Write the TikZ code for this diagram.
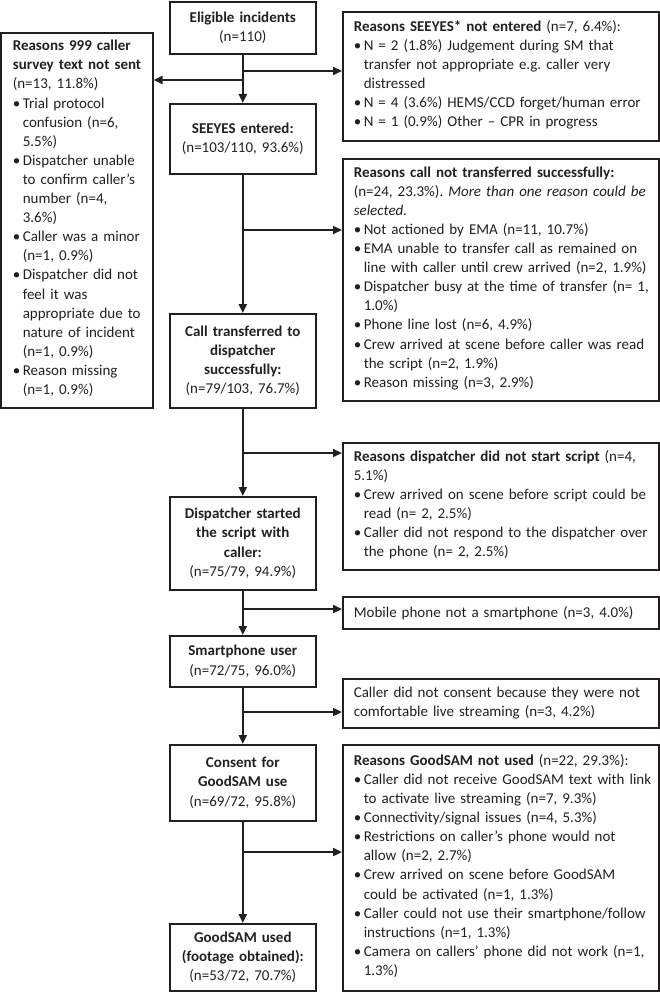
\documentclass[tikz,border=0pt]{standalone}
\usepackage{fontspec}
\setmainfont{Carlito}
\usetikzlibrary{arrows.meta}
\definecolor{ink}{HTML}{231F20}
\newcommand{\bul}[1]{\par\noindent\makebox[10pt][l]{\textbullet}\parbox[t]{\dimexpr\linewidth-\leftskip-10pt\relax}{\fontsize{15}{19.1}\selectfont\raggedright\frenchspacing #1\strut}\par\prevdepth=\dp\strutbox}
\newcommand{\lsk}{\leftskip=3pt\relax}
\newcommand{\lskr}{\leftskip=6pt\relax}
\tikzset{
  box/.style={draw=ink, line width=1.6pt, inner ysep=3pt, anchor=north west,
    font=\fontsize{15}{19.1}\selectfont\frenchspacing, text=ink},
  mainbox/.style={box, align=center, inner xsep=4pt, text width=138pt, minimum width=146pt},
  sidebox/.style={box, align=left, inner xsep=5pt, text width=306pt, minimum width=316pt,
    execute at begin node=\lskr},
  leftbox/.style={box, align=left, inner xsep=9pt, text width=134pt, minimum width=152pt,
    execute at begin node=\lsk},
  arr/.style={draw=ink, line width=2.2pt, -{Triangle[length=9pt,width=8pt]}},
  conn/.style={draw=ink, line width=2.2pt}
}
\begin{document}
\begin{tikzpicture}[x=1pt,y=-1pt]
\useasboundingbox (0,0) rectangle (660,992);
% main column
\node[mainbox, minimum height=52pt] (elig) at (169,1) {\textbf{Eligible incidents}\\(n=110)};
\node[mainbox, minimum height=70pt] (seeyes) at (169,103) {\textbf{SEEYES entered:}\\(n=103/110, 93.6\%)};
\node[mainbox, minimum height=94pt] (trans) at (169,313) {\textbf{Call transferred to}\\\textbf{dispatcher}\\\textbf{successfully:}\\(n=79/103, 76.7\%)};
\node[mainbox, minimum height=93pt] (disp) at (169,496) {\textbf{Dispatcher started}\\\textbf{the script with}\\\textbf{caller:}\\(n=75/79, 94.9\%)};
\node[mainbox, minimum height=51pt] (smart) at (169,635) {\textbf{Smartphone user}\\(n=72/75, 96.0\%)};
\node[mainbox, minimum height=76pt] (consent) at (169,744) {\textbf{Consent for}\\\textbf{GoodSAM use}\\(n=69/72, 95.8\%)};
\node[mainbox, minimum height=67pt] (used) at (169,923) {\textbf{GoodSAM used}\\\textbf{(footage obtained):}\\(n=53/72, 70.7\%)};
% left box
\node[leftbox, minimum height=375pt] (left) at (0,32) {\textbf{Reasons 999 caller}\newline\textbf{survey text not sent}\newline(n=13, 11.8\%)%
\bul{Trial protocol\newline confusion (n=6,\newline 5.5\%)}%
\bul{Dispatcher unable\newline to confirm caller’s\newline number (n=4,\newline 3.6\%)}%
\bul{Caller was a minor\newline (n=1, 0.9\%)}%
\bul{Dispatcher did not\newline feel it was\newline appropriate due to\newline nature of incident\newline (n=1, 0.9\%)}%
\bul{Reason missing\newline (n=1, 0.9\%)}};
% right boxes
\node[sidebox, minimum height=129pt] (r1) at (342,11) {\textbf{Reasons SEEYES* not entered} (n=7, 6.4\%):%
\bul{N = 2 (1.8\%) Judgement during SM that\newline transfer not appropriate e.g. caller very\newline distressed}%
\bul{N = 4 (3.6\%) HEMS/CCD forget/human error}%
\bul{N = 1 (0.9\%) Other – CPR in progress}};
\node[sidebox, minimum height=242pt] (r2) at (342,158) {\textbf{Reasons call not transferred successfully:}\newline(n=24, 23.3\%). \textit{More than one reason could be}\newline\textit{selected.}%
\bul{Not actioned by EMA (n=11, 10.7\%)}%
\bul{EMA unable to transfer call as remained on\newline line with caller until crew arrived (n=2, 1.9\%)}%
\bul{Dispatcher busy at the time of transfer (n=~1,\newline 1.0\%)}%
\bul{Phone line lost (n=6, 4.9\%)}%
\bul{Crew arrived at scene before caller was read\newline the script (n=2, 1.9\%)}%
\bul{Reason missing (n=3, 2.9\%)}};
\node[sidebox, minimum height=127pt] (r3) at (342,442) {\textbf{Reasons dispatcher did not start script} (n=4,\newline 5.1\%)%
\bul{Crew arrived on scene before script could be\newline read (n= 2, 2.5\%)}%
\bul{Caller did not respond to the dispatcher over\newline the phone (n= 2, 2.5\%)}};
\node[sidebox, minimum height=32pt] (r4) at (342,596) {Mobile phone not a smartphone (n=3, 4.0\%)\par};
\node[sidebox, minimum height=49pt] (r5) at (342,678) {Caller did not consent because they were not\newline comfortable live streaming (n=3, 4.2\%)\par};
\node[sidebox, minimum height=246pt] (r6) at (342,744) {\textbf{Reasons GoodSAM not used} (n=22, 29.3\%):%
\bul{Caller did not receive GoodSAM text with link\newline to activate live streaming (n=7, 9.3\%)}%
\bul{Connectivity/signal issues (n=4, 5.3\%)}%
\bul{Restrictions on caller’s phone would not\newline allow (n=2, 2.7\%)}%
\bul{Crew arrived on scene before GoodSAM\newline could be activated (n=1, 1.3\%)}%
\bul{Caller could not use their smartphone/follow\newline instructions (n=1, 1.3\%)}%
\bul{Camera on callers’ phone did not work (n=1,\newline 1.3\%)}};
% junctions
\coordinate (j1) at (242,71);
\coordinate (j0) at (242,80);
\coordinate (j2) at (242,230);
\coordinate (j3) at (242,453);
\coordinate (j4) at (242,609);
\coordinate (j5) at (242,712);
\coordinate (j6) at (242,852);
% connectors
\draw[arr] (elig.south) -- (seeyes.north);
\draw[arr] (seeyes.south) -- (trans.north);
\draw[arr] (trans.south) -- (disp.north);
\draw[arr] (disp.south) -- (smart.north);
\draw[arr] (smart.south) -- (consent.north);
\draw[arr] (consent.south) -- (used.north);
\draw[arr] (j1) -- (j1 -| r1.west);
\draw[arr] (j0) -- (j0 -| left.east);
\draw[arr] (j2) -- (j2 -| r2.west);
\draw[arr] (j3) -- (j3 -| r3.west);
\draw[arr] (j4) -- (j4 -| r4.west);
\draw[arr] (j5) -- (j5 -| r5.west);
\draw[arr] (j6) -- (j6 -| r6.west);
\end{tikzpicture}
\end{document}
